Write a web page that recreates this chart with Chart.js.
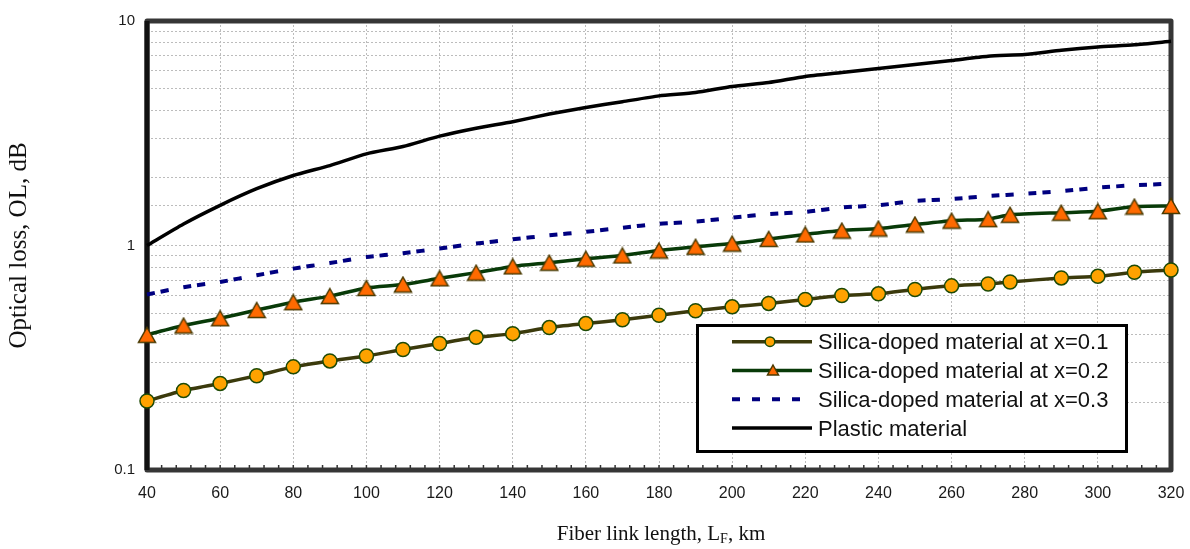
<!DOCTYPE html>
<html lang="en">
<head>
  <meta charset="UTF-8">
  <title>Optical loss vs fiber link length</title>
  <script src="https://cdn.jsdelivr.net/npm/chart.js"></script>
  <style>
    body { margin: 0; background: #fff; }
    #wrap { position: relative; width: 1190px; height: 549px; }
    #xTitle {
      position: absolute; left: 661px; top: 521px;
      transform: translateX(-50%); white-space: nowrap;
      font-family: "Liberation Serif", "Times New Roman", serif;
      font-size: 21px; line-height: 24px; color: #111;
    }
    #xTitle sub { font-size: 14px; vertical-align: -3px; line-height: 0; }
  </style>
</head>
<body>
  <div id="wrap">
    <canvas id="lossChart" width="1190" height="549"></canvas>
    <div id="xTitle">Fiber link length, L<sub>F</sub>, km</div>
  </div>

  <script>
    // fiber length (km) where the marked series have points
    const markedLength = [40, 50, 60, 70, 80, 90, 100, 110, 120, 130, 140, 150, 160, 170, 180,
                          190, 200, 210, 220, 230, 240, 250, 260, 270, 276, 290, 300, 310, 320];
    // fiber length (km) for the unmarked series
    const plainLength = [40, 50, 60, 70, 80, 90, 100, 110, 120, 130, 140, 150, 160, 170, 180,
                         190, 200, 210, 220, 230, 240, 250, 260, 270, 280, 290, 300, 310, 320];

    // optical loss, dB
    const silica01 = [0.203, 0.226, 0.243, 0.263, 0.288, 0.306, 0.322, 0.344, 0.366, 0.390, 0.405, 0.431,
                      0.449, 0.467, 0.489, 0.512, 0.533, 0.552, 0.575, 0.599, 0.609, 0.637, 0.661, 0.674,
                      0.688, 0.717, 0.729, 0.760, 0.778];
    const silica02 = [0.40, 0.44, 0.474, 0.516, 0.559, 0.595, 0.647, 0.670, 0.714, 0.757, 0.807, 0.838,
                      0.873, 0.903, 0.95, 0.987, 1.02, 1.07, 1.12, 1.165, 1.19, 1.24, 1.29, 1.31,
                      1.37, 1.40, 1.42, 1.49, 1.50];
    const silica03 = [0.605, 0.652, 0.688, 0.737, 0.789, 0.835, 0.888, 0.924, 0.97, 1.02, 1.065, 1.11,
                      1.15, 1.20, 1.25, 1.277, 1.33, 1.38, 1.41, 1.477, 1.51, 1.58, 1.61, 1.66,
                      1.70, 1.745, 1.81, 1.855, 1.886];
    const plastic = [1.0, 1.247, 1.51, 1.79, 2.05, 2.27, 2.56, 2.76, 3.07, 3.33, 3.56, 3.85,
                     4.12, 4.37, 4.64, 4.80, 5.11, 5.32, 5.66, 5.89, 6.15, 6.40, 6.67, 6.97,
                     7.09, 7.41, 7.66, 7.83, 8.12];

    const seriesNames = ['Silica-doped material at x=0.1', 'Silica-doped material at x=0.2',
                         'Silica-doped material at x=0.3', 'Plastic material'];
    const yLabelValues = [0.1, 1, 10];

    function pairs(xs, ys) {
      return xs.map((x, i) => ({ x: x, y: ys[i] }));
    }

    // excel-like triangle marker, centred on its bounding box
    function triangleMarker(w, h, fill, stroke, lw) {
      const c = document.createElement('canvas');
      c.width = w + 2 * lw;
      c.height = h + 2 * lw;
      const g = c.getContext('2d');
      g.beginPath();
      g.moveTo(c.width / 2, lw);
      g.lineTo(c.width - lw, c.height - lw);
      g.lineTo(lw, c.height - lw);
      g.closePath();
      g.fillStyle = fill;
      g.fill();
      g.lineWidth = lw;
      g.strokeStyle = stroke;
      g.stroke();
      return c;
    }

    const circleFill = '#ffa200', circleEdge = '#1d4a05';
    const triFill = '#ff6a00', triEdge = '#4a3a00';

    // outer frame + minor ticks on the x axis
    const plotFrame = {
      id: 'plotFrame',
      beforeDatasetsDraw(chart) {
        const { ctx, chartArea: a, scales } = chart;
        ctx.save();
        ctx.strokeStyle = '#333';
        ctx.lineWidth = 1.5;
        for (let v = scales.x.min; v <= scales.x.max; v += 4) {
          const px = scales.x.getPixelForValue(v);
          ctx.beginPath();
          ctx.moveTo(px, a.bottom - 5);
          ctx.lineTo(px, a.bottom);
          ctx.stroke();
        }
        ctx.lineJoin = 'round';
        ctx.lineWidth = 5;
        ctx.strokeStyle = '#363636';
        ctx.strokeRect(a.left, a.top, a.right - a.left, a.bottom - a.top);
        ctx.strokeStyle = '#111';
        ctx.beginPath();
        ctx.moveTo(a.left, a.top);
        ctx.lineTo(a.left, a.bottom);
        ctx.stroke();
        ctx.restore();
      }
    };

    const legendBox = { left: 697.5, top: 325.5, right: 1126.5, bottom: 451.5,
                        rowTop: 341.7, rowGap: 28.8, lineFrom: 732, lineTo: 812, textX: 818 };

    const boxedLegend = {
      id: 'boxedLegend',
      afterDatasetsDraw(chart) {
        const ctx = chart.ctx;
        const b = legendBox;
        ctx.save();
        ctx.fillStyle = '#fff';
        ctx.fillRect(b.left, b.top, b.right - b.left, b.bottom - b.top);
        ctx.lineWidth = 3;
        ctx.strokeStyle = '#000';
        ctx.strokeRect(b.left, b.top, b.right - b.left, b.bottom - b.top);

        chart.data.datasets.forEach((ds, i) => {
          const y = b.rowTop + i * b.rowGap;
          const mid = (b.lineFrom + b.lineTo) / 2;
          ctx.save();
          ctx.strokeStyle = ds.borderColor;
          ctx.lineWidth = ds.borderWidth;
          ctx.setLineDash(ds.legendDash || []);
          ctx.beginPath();
          ctx.moveTo(b.lineFrom, y);
          ctx.lineTo(b.lineTo, y);
          ctx.stroke();
          ctx.restore();

          if (ds.legendMarker === 'circle') {
            ctx.beginPath();
            ctx.arc(mid - 2, y, 4.8, 0, Math.PI * 2);
            ctx.fillStyle = circleFill;
            ctx.fill();
            ctx.lineWidth = 1.5;
            ctx.strokeStyle = circleEdge;
            ctx.stroke();
          } else if (ds.legendMarker === 'triangle') {
            ctx.beginPath();
            ctx.moveTo(mid + 1, y - 5.5);
            ctx.lineTo(mid + 6.5, y + 4.5);
            ctx.lineTo(mid - 4.5, y + 4.5);
            ctx.closePath();
            ctx.fillStyle = triFill;
            ctx.fill();
            ctx.lineWidth = 1.5;
            ctx.strokeStyle = triEdge;
            ctx.stroke();
          }

          ctx.fillStyle = '#111';
          ctx.font = '22px "Liberation Sans", Arial, sans-serif';
          ctx.textBaseline = 'alphabetic';
          ctx.fillText(ds.label, b.textX, y + 7.5);
        });
        ctx.restore();
      }
    };

    const gridGray = '#bcbcbc';

    new Chart(document.getElementById('lossChart'), {
      type: 'line',
      data: {
        datasets: [
          {
            label: seriesNames[0],
            data: pairs(markedLength, silica01),
            borderColor: '#3b3a0c',
            borderWidth: 3.5,
            pointStyle: 'circle',
            pointRadius: 7,
            pointBorderWidth: 1.5,
            pointBackgroundColor: circleFill,
            pointBorderColor: circleEdge,
            legendMarker: 'circle',
            tension: 0.2,
            clip: false
          },
          {
            label: seriesNames[1],
            data: pairs(markedLength, silica02),
            borderColor: '#083a08',
            borderWidth: 3.5,
            pointStyle: triangleMarker(17, 15, triFill, triEdge, 1.5),
            pointRadius: 8,
            legendMarker: 'triangle',
            tension: 0.2,
            clip: false
          },
          {
            label: seriesNames[2],
            data: pairs(plainLength, silica03),
            borderColor: '#000080',
            borderWidth: 4,
            borderDash: [8, 6, 8, 15],
            legendDash: [8, 12],
            pointRadius: 0,
            tension: 0.2,
            clip: false
          },
          {
            label: seriesNames[3],
            data: pairs(plainLength, plastic),
            borderColor: '#000',
            borderWidth: 3.5,
            pointRadius: 0,
            tension: 0.2,
            clip: false
          }
        ]
      },
      options: {
        responsive: false,
        animation: false,
        events: [],
        layout: { padding: { left: 0, right: 19, top: 16, bottom: 0 } },
        plugins: {
          legend: { display: false },
          tooltip: { enabled: false }
        },
        scales: {
          x: {
            type: 'linear',
            min: 40,
            max: 320,
            afterFit: (s) => { s.height = 79; s.paddingLeft = 0; s.paddingRight = 0; },
            grid: { color: gridGray, lineWidth: 1, drawTicks: false, borderDash: [2, 2] },
            border: { display: false, dash: [2, 2] },
            ticks: {
              stepSize: 20,
              autoSkip: false,
              maxRotation: 0,
              padding: 14,
              color: '#1a1a1a',
              font: { family: '"Liberation Sans", Arial, sans-serif', size: 16 }
            }
          },
          y: {
            type: 'logarithmic',
            min: 0.1,
            max: 10,
            afterFit: (s) => { s.width = 147; },
            grid: { color: gridGray, lineWidth: 1, drawTicks: false, borderDash: [2, 2] },
            border: { display: false, dash: [2, 2] },
            ticks: {
              autoSkip: false,
              padding: 12,
              color: '#1a1a1a',
              font: { family: '"Liberation Sans", Arial, sans-serif', size: 15 },
              callback: (v) => yLabelValues.some(t => Math.abs(t - v) < 1e-9) ? String(v) : ''
            },
            title: {
              display: true,
              text: 'Optical loss, OL, dB',
              color: '#111',
              font: { family: '"Liberation Serif", "Times New Roman", serif', size: 25 },
              padding: { top: 4, bottom: 0 }
            }
          }
        }
      },
      plugins: [plotFrame, boxedLegend]
    });
  </script>
</body>
</html>
